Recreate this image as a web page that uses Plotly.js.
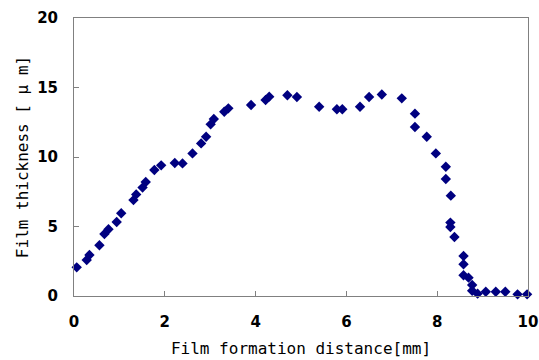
<!DOCTYPE html>
<html><head><meta charset="utf-8">
<script src="https://cdn.plot.ly/plotly-3.0.1.min.js"></script>
<style>body{margin:0;padding:0;background:#fff}#chart{width:539px;height:360px}</style>
</head><body><div id="chart"></div>
<script>
const distance = [0.06,0.28,0.34,0.56,0.67,0.76,0.94,1.04,1.31,1.37,1.51,1.58,1.77,1.92,2.22,2.39,2.61,2.80,2.91,3.01,3.08,3.31,3.40,3.90,4.22,4.30,4.70,4.91,5.40,5.79,5.91,6.30,6.50,6.78,7.22,7.51,7.51,7.77,7.97,8.19,8.19,8.30,8.29,8.29,8.38,8.58,8.58,8.58,8.69,8.77,8.77,8.89,9.07,9.29,9.50,9.77,9.98];
const thickness = [2.06,2.59,2.95,3.65,4.46,4.80,5.32,5.95,6.90,7.31,7.80,8.20,9.06,9.40,9.57,9.54,10.26,10.98,11.46,12.35,12.73,13.26,13.50,13.74,14.10,14.34,14.44,14.32,13.62,13.43,13.43,13.62,14.32,14.50,14.22,13.12,12.16,11.46,10.26,9.30,8.42,7.22,5.28,4.96,4.24,2.88,2.28,1.49,1.32,0.79,0.38,0.17,0.31,0.31,0.31,0.12,0.12];
const xTicks = [0,2,4,6,8,10];
const yTicks = [0,5,10,15,20];

const tickFont = {family: 'DejaVu Sans', size: 15, color: '#000', weight: 'bold'};
const titleFont = {family: 'DejaVu Sans Mono', size: 16, color: '#000'};

Plotly.newPlot('chart', [{
  x: distance, y: thickness, type: 'scatter', mode: 'markers',
  marker: {symbol: 'diamond', size: 8, color: '#000080'},
  cliponaxis: false, showlegend: false
}], {
  width: 539, height: 360,
  margin: {l: 74, r: 11, t: 18, b: 64},
  paper_bgcolor: '#fff', plot_bgcolor: '#fff',
  xaxis: {
    range: [0, 10], tickvals: xTicks, ticktext: xTicks.map(String),
    ticks: 'inside', ticklen: 5, tickcolor: '#808080',
    showline: true, linecolor: '#808080', linewidth: 1, mirror: true,
    showgrid: false, zeroline: false, ticklabelstandoff: 12,
    tickfont: tickFont,
    title: {text: 'Film formation distance[mm]', standoff: 12, font: titleFont}
  },
  yaxis: {
    range: [0, 20], tickvals: yTicks, ticktext: yTicks.map(String),
    ticks: 'inside', ticklen: 5, tickcolor: '#808080',
    showline: true, linecolor: '#808080', linewidth: 1, mirror: true,
    showgrid: false, zeroline: false, ticklabelstandoff: 12,
    tickfont: tickFont,
    title: {text: 'Film thickness [ μ m]', standoff: 4, font: titleFont}
  }
}, {displayModeBar: false, staticPlot: true});
</script></body></html>
